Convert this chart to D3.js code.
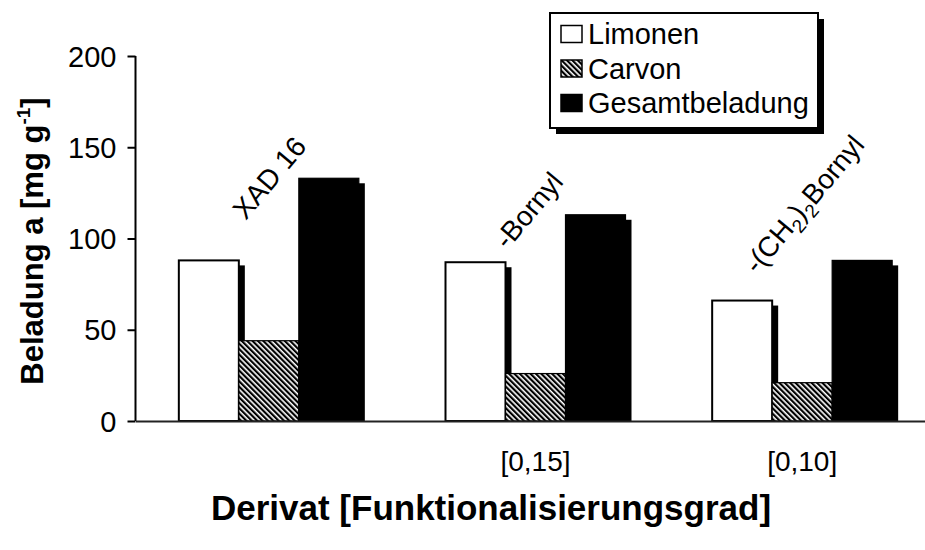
<!DOCTYPE html>
<html>
<head>
<meta charset="utf-8">
<script src="https://cdn.jsdelivr.net/npm/d3@7/dist/d3.min.js"></script>
<style>
  html, body { margin: 0; padding: 0; background: #fff; }
  svg { display: block; font-family: "Liberation Sans", Arial, sans-serif; }
</style>
</head>
<body>
<svg id="chart" width="925" height="550"></svg>
<script>
// Adsorbent derivatives (groups) and their degree of functionalisation
const derivates = ["XAD 16", "-Bornyl", "-(CH2)2Bornyl"];
const grade = ["", "[0,15]", "[0,10]"];

// Series
const seriesNames = ["Limonen", "Carvon", "Gesamtbeladung"];
const limonen = [88, 87, 66];
const carvon = [44, 26, 21];
const gesamt = [133, 113, 88];

const yTicks = [0, 50, 100, 150, 200];

const series = [limonen, carvon, gesamt];
const fills = ["#fff", "url(#hatch)", "#000"];

const svg = d3.select("#chart");
const plot = { left: 135.5, right: 935.5, top: 56, bottom: 421 };

// hatch pattern for Carvon (diagonal "\" stripes)
const defs = svg.append("defs");
const hp = 3.8;
const pat = defs.append("pattern")
  .attr("id", "hatch")
  .attr("patternUnits", "userSpaceOnUse")
  .attr("width", hp).attr("height", hp)
  .attr("patternTransform", "rotate(-45)");
pat.append("rect").attr("width", hp).attr("height", hp).attr("fill", "#fff");
pat.append("rect").attr("width", 2.2).attr("height", hp).attr("fill", "#000");

const y = d3.scaleLinear().domain([0, 200]).range([plot.bottom, plot.top]);
const x0 = d3.scaleBand().domain(d3.range(derivates.length))
  .range([plot.left, plot.right]).paddingInner(0.325).paddingOuter(0.1625);
const x1 = d3.scaleBand().domain(d3.range(seriesNames.length))
  .range([0, x0.bandwidth()]);

const shadowDx = 6, shadowDy = 5;

// bars with drop shadows
const groups = svg.append("g").selectAll("g")
  .data(derivates.map((d, i) => i))
  .join("g")
  .attr("transform", i => `translate(${x0(i)},0)`);

groups.each(function (gi) {
  const g = d3.select(this);
  series.forEach((vals, si) => {
    const v = vals[gi];
    const bx = x1(si), bw = x1.bandwidth();
    g.append("rect")
      .attr("x", bx + shadowDx).attr("y", y(v) + shadowDy)
      .attr("width", bw).attr("height", Math.max(0, y(0) - y(v) - shadowDy))
      .attr("fill", "#000");
    g.append("rect")
      .attr("x", bx).attr("y", y(v))
      .attr("width", bw).attr("height", y(0) - y(v))
      .attr("fill", fills[si])
      .attr("stroke", "#000").attr("stroke-width", si === 0 ? 2 : 1.2);
  });
});

// y axis
const yAxis = svg.append("g")
  .attr("transform", `translate(${plot.left},0)`)
  .call(d3.axisLeft(y).tickValues(yTicks).tickSize(8).tickPadding(11));
yAxis.select(".domain").attr("stroke", "#000").attr("stroke-width", 2)
  .attr("d", `M0,${plot.top}V${plot.bottom}`);
yAxis.selectAll(".tick line").attr("stroke", "#000").attr("stroke-width", 2);
yAxis.selectAll(".tick text").attr("font-size", 29).attr("fill", "#000")
  .attr("font-family", "Liberation Sans, Arial, sans-serif").attr("dy", "0.35em");

// x axis baseline
const xAxis = svg.append("g")
  .attr("transform", `translate(0,${plot.bottom})`)
  .call(d3.axisBottom(x0).tickSize(0).tickPadding(30).tickFormat(i => grade[i]));
xAxis.select(".domain").attr("stroke", "#222").attr("stroke-width", 2);
xAxis.selectAll(".tick text").attr("font-size", 28).attr("fill", "#000")
  .attr("font-family", "Liberation Sans, Arial, sans-serif");

// rotated derivative names above the groups
const nameOffsets = [[67, -200], [62, -170.5], [45, -146]];
const names = svg.append("g").attr("font-size", 28).attr("fill", "#000");
derivates.forEach((d, i) => {
  const t = names.append("text")
    .attr("transform", `translate(${x0(i) + nameOffsets[i][0]},${plot.bottom + nameOffsets[i][1]}) rotate(-50)`);
  if (d.includes("(CH2)2")) {
    t.append("tspan").text("-(CH");
    t.append("tspan").attr("font-size", 19).attr("dy", 7).text("2");
    t.append("tspan").attr("dy", -7).text(")");
    t.append("tspan").attr("font-size", 19).attr("dy", 7).text("2");
    t.append("tspan").attr("dy", -7).text("Bornyl");
  } else {
    t.text(d);
  }
});

// axis titles
svg.append("text")
  .attr("x", 491).attr("y", 520)
  .attr("text-anchor", "middle")
  .attr("font-size", 35).attr("font-weight", "bold")
  .text("Derivat [Funktionalisierungsgrad]");

const yt = svg.append("text")
  .attr("transform", "translate(43,241) rotate(-90)")
  .attr("text-anchor", "middle")
  .attr("font-size", 31).attr("font-weight", "bold");
yt.append("tspan").text("Beladung a [mg g");
yt.append("tspan").attr("font-size", 19).attr("dy", -13).text("-1");
yt.append("tspan").attr("dy", 13).text("]");

// legend with drop shadow
const lg = { x: 550, y: 13, w: 268, h: 115 };
const legend = svg.append("g");
legend.append("rect")
  .attr("x", lg.x + 6).attr("y", lg.y + 6).attr("width", lg.w).attr("height", lg.h)
  .attr("fill", "#000");
legend.append("rect")
  .attr("x", lg.x).attr("y", lg.y).attr("width", lg.w).attr("height", lg.h)
  .attr("fill", "#fff").attr("stroke", "#000").attr("stroke-width", 2);
const rowY = d3.scalePoint().domain(d3.range(seriesNames.length))
  .range([lg.y + 21, lg.y + 90]);
seriesNames.forEach((name, i) => {
  legend.append("rect")
    .attr("x", lg.x + 11).attr("y", rowY(i) - 8.5)
    .attr("width", 21).attr("height", 17)
    .attr("fill", fills[i]).attr("stroke", "#000").attr("stroke-width", 1.5);
  legend.append("text")
    .attr("x", lg.x + 38).attr("y", rowY(i) + 10)
    .attr("font-size", 29).attr("fill", "#000")
    .text(name);
});
</script>
</body>
</html>
